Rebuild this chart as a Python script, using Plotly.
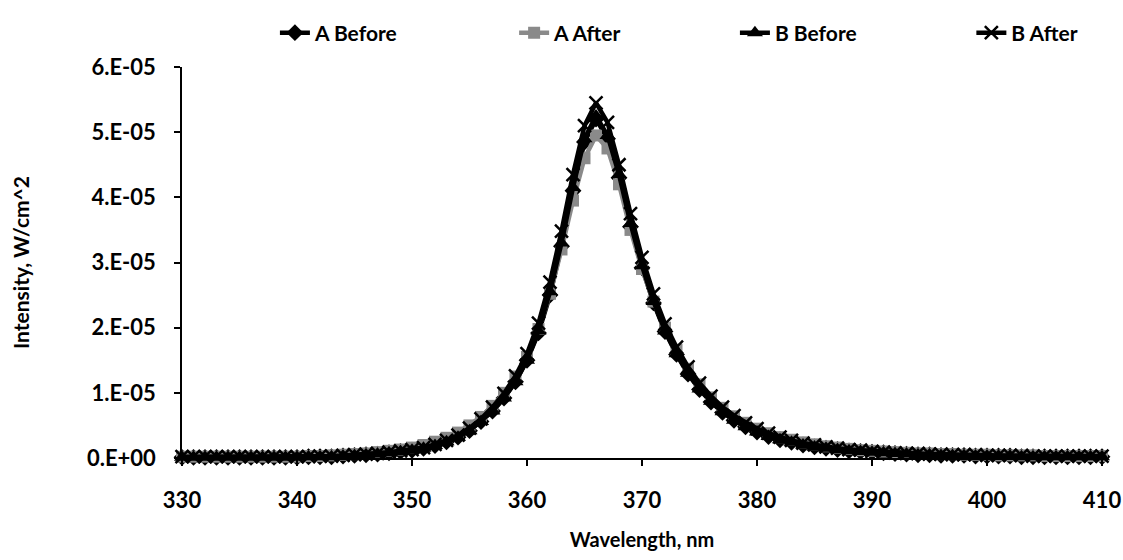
import plotly.graph_objects as go

wavelength = list(range(330, 411))

# Intensities in units of 1e-5 W/cm^2
a_before_e5 = [
    0.01, 0.01, 0.01, 0.01, 0.01, 0.01, 0.01, 0.01, 0.01, 0.01, 0.01,
    0.02, 0.02, 0.02, 0.03, 0.04, 0.05, 0.06, 0.08, 0.10, 0.12,
    0.15, 0.19, 0.25, 0.32, 0.42, 0.56, 0.72, 0.92, 1.17, 1.50,
    1.92, 2.50, 3.25, 4.10, 4.85, 5.20, 4.90, 4.30, 3.55, 2.92,
    2.38, 1.94, 1.59, 1.29, 1.05, 0.86, 0.70, 0.58, 0.48, 0.40,
    0.33, 0.28, 0.24, 0.20, 0.17, 0.15, 0.13, 0.11, 0.10, 0.09,
    0.08, 0.07, 0.06, 0.05, 0.05, 0.04, 0.04, 0.04, 0.03, 0.03,
    0.03, 0.03, 0.02, 0.02, 0.02, 0.02, 0.02, 0.02, 0.02, 0.02,
]
a_after_e5 = [
    0.02, 0.02, 0.02, 0.02, 0.02, 0.02, 0.02, 0.02, 0.02, 0.02, 0.02,
    0.03, 0.03, 0.04, 0.05, 0.06, 0.07, 0.09, 0.11, 0.13, 0.16,
    0.20, 0.25, 0.31, 0.39, 0.50, 0.63, 0.80, 1.00, 1.25, 1.55,
    1.98, 2.52, 3.20, 3.95, 4.60, 4.95, 4.75, 4.20, 3.50, 2.90,
    2.40, 2.00, 1.66, 1.37, 1.13, 0.93, 0.77, 0.64, 0.54, 0.45,
    0.38, 0.32, 0.28, 0.24, 0.21, 0.18, 0.16, 0.14, 0.12, 0.11,
    0.10, 0.09, 0.08, 0.07, 0.07, 0.06, 0.06, 0.05, 0.05, 0.05,
    0.04, 0.04, 0.04, 0.04, 0.03, 0.03, 0.03, 0.03, 0.03, 0.03,
]
b_before_e5 = [
    0.01, 0.01, 0.01, 0.01, 0.01, 0.01, 0.01, 0.01, 0.01, 0.01, 0.01,
    0.02, 0.02, 0.02, 0.03, 0.04, 0.05, 0.06, 0.08, 0.10, 0.12,
    0.15, 0.19, 0.25, 0.32, 0.42, 0.56, 0.72, 0.92, 1.17, 1.50,
    1.95, 2.55, 3.30, 4.15, 4.90, 5.25, 4.95, 4.35, 3.60, 2.95,
    2.40, 1.95, 1.60, 1.30, 1.06, 0.87, 0.71, 0.58, 0.48, 0.40,
    0.33, 0.28, 0.24, 0.20, 0.17, 0.15, 0.13, 0.11, 0.10, 0.09,
    0.08, 0.07, 0.06, 0.05, 0.05, 0.04, 0.04, 0.04, 0.03, 0.03,
    0.03, 0.03, 0.02, 0.02, 0.02, 0.02, 0.02, 0.02, 0.02, 0.02,
]
b_after_e5 = [
    0.02, 0.02, 0.02, 0.02, 0.02, 0.02, 0.02, 0.02, 0.02, 0.02, 0.02,
    0.02, 0.03, 0.03, 0.04, 0.05, 0.06, 0.07, 0.09, 0.11, 0.13,
    0.16, 0.21, 0.27, 0.35, 0.46, 0.60, 0.78, 0.99, 1.26, 1.60,
    2.07, 2.70, 3.48, 4.35, 5.10, 5.45, 5.15, 4.50, 3.75, 3.08,
    2.52, 2.06, 1.70, 1.40, 1.15, 0.95, 0.78, 0.65, 0.54, 0.45,
    0.38, 0.32, 0.27, 0.23, 0.20, 0.17, 0.15, 0.13, 0.12, 0.10,
    0.09, 0.08, 0.07, 0.07, 0.06, 0.06, 0.05, 0.05, 0.05, 0.04,
    0.04, 0.04, 0.04, 0.03, 0.03, 0.03, 0.03, 0.03, 0.03, 0.03,
]

series_names = ["A Before", "A After", "B Before", "B After"]
x_ticks = [330, 340, 350, 360, 370, 380, 390, 400, 410]
y_tick_vals = [0, 1e-5, 2e-5, 3e-5, 4e-5, 5e-5, 6e-5]
y_tick_text = ["0.E+00", "1.E-05", "2.E-05", "3.E-05", "4.E-05", "5.E-05", "6.E-05"]

E5 = 1e-5  # unit conversion

styles = [
    dict(color="#000000", symbol="diamond", size=13),
    dict(color="#8a8a8a", symbol="square", size=12),
    dict(color="#000000", symbol="triangle-up", size=14),
    dict(color="#000000", symbol="x-thin", size=13),
]
legend_ids = ["legend", "legend2", "legend3", "legend4"]
legend_x = [0.101, 0.361, 0.601, 0.858]
data = [a_before_e5, a_after_e5, b_before_e5, b_after_e5]

font_family = "Lato"
fig = go.Figure()
for name, vals, st, lid in zip(series_names, data, styles, legend_ids):
    marker = dict(symbol=st["symbol"], size=st["size"], color=st["color"])
    if st["symbol"] == "x-thin":
        marker["line"] = dict(color=st["color"], width=2.5)
    fig.add_trace(go.Scatter(
        x=wavelength,
        y=[v * E5 for v in vals],
        name=name,
        mode="lines+markers",
        line=dict(color=st["color"], width=4.5),
        marker=marker,
        cliponaxis=False,
        legend=lid,
    ))

legend_common = dict(
    orientation="h", xanchor="left", y=1.087, yanchor="middle",
    font=dict(family=font_family, size=21, color="black", weight="bold"),
    bgcolor="rgba(0,0,0,0)", itemclick=False, itemdoubleclick=False,
)
legend_layout = {lid: dict(x=lx, **legend_common) for lid, lx in zip(legend_ids, legend_x)}

fig.update_layout(
    width=1123, height=560,
    margin=dict(l=182, r=21, t=57, b=102),
    paper_bgcolor="white", plot_bgcolor="white",
    font=dict(family=font_family, size=22, color="black", weight="bold"),
    showlegend=True,
    **legend_layout,
    xaxis=dict(
        range=[330, 410], tickvals=x_ticks, ticktext=[str(t) for t in x_ticks],
        showgrid=False, zeroline=False, showline=True, linecolor="black", linewidth=1.5,
        ticks="outside", ticklen=6, tickwidth=1.5, tickcolor="black",
        ticklabelstandoff=16,
        title=dict(text="Wavelength, nm", font=dict(size=20, weight="bold"), standoff=21),
        automargin=False,
    ),
    yaxis=dict(
        range=[0, 6e-5], tickvals=y_tick_vals, ticktext=y_tick_text,
        showgrid=False, zeroline=False, showline=True, linecolor="black", linewidth=1.5,
        ticks="outside", ticklen=6, tickwidth=1.5, tickcolor="black",
        ticklabelstandoff=14,
        title=dict(text="Intensity, W/cm^2", font=dict(size=21, weight="bold"), standoff=52),
        automargin=False,
    ),
)

fig.write_html(
    "out.html",
    config={"displayModeBar": False},
    post_script="document.body.style.margin='0';document.body.style.overflow='hidden';",
)
